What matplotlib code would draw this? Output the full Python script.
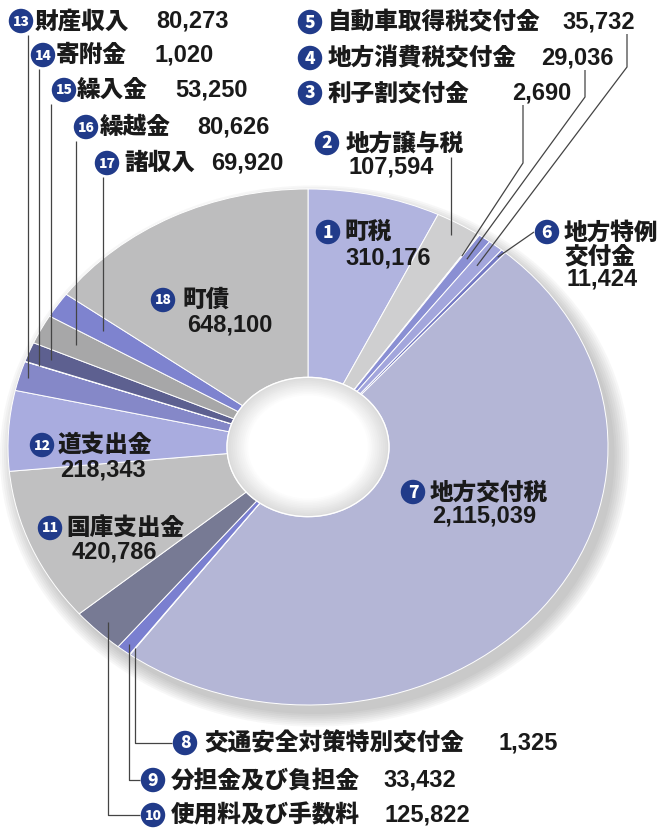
import matplotlib
matplotlib.use("Agg")
import matplotlib.pyplot as plt
from matplotlib.patches import Ellipse
import numpy as np

plt.rcParams["font.family"] = ["Noto Sans CJK JP", "DejaVu Sans"]

# 歳入の内訳（千円）
numbers = list(range(1, 19))
names = ["町税", "地方譲与税", "利子割交付金", "地方消費税交付金", "自動車取得税交付金",
         "地方特例\n交付金", "地方交付税", "交通安全対策特別交付金", "分担金及び負担金",
         "使用料及び手数料", "国庫支出金", "道支出金", "財産収入", "寄附金", "繰入金",
         "繰越金", "諸収入", "町債"]
values = [310176, 107594, 2690, 29036, 35732, 11424, 2115039, 1325, 33432,
          125822, 420786, 218343, 80273, 1020, 53250, 80626, 69920, 648100]
colors = ["#b1b4df", "#cfcfd0", "#6d71b8", "#8a8fd3", "#a3a6dc", "#7479c4",
          "#b4b6d6", "#7b80d0", "#7a7fd0", "#777a94", "#c0c0c1", "#a9acdf",
          "#8588c8", "#6a6d9a", "#5d6090", "#a7a7a8", "#7e83cf", "#bdbdbe"]

W, H = 658, 831
CX, CY, RX, RY = 308, 447, 300, 258   # 楕円の中心と半径（px）
HOLE = 0.27
NAVY = "#213b8a"
INK = "#1a1a1a"
LINE = "#444444"
FS = 17
LSTEP = 24   # 2行目以降の行送り（px）

# ラベル配置（px）: 丸数字の位置, 名前の位置, 金額の位置
badge_xy = {13: (21, 21), 14: (43, 55), 15: (64, 90), 16: (86, 127), 17: (107, 163),
            5: (310, 22), 4: (310, 58), 3: (310, 93), 2: (327, 143), 1: (328, 232),
            6: (547, 232), 7: (413, 492), 18: (163, 300), 12: (42, 445), 11: (50, 528),
            8: (185, 743), 9: (153, 780), 10: (153, 815)}
name_xy = {13: (35, 21), 14: (56, 55), 15: (77, 90), 16: (100, 127), 17: (124, 163),
           5: (328, 22), 4: (328, 58), 3: (328, 93), 2: (346, 143), 1: (344, 232),
           6: (564, 232), 7: (430, 492), 18: (182, 300), 12: (58, 445), 11: (66, 528),
           8: (204, 743), 9: (171, 780), 10: (171, 815)}
value_xy = {13: (156, 21), 14: (155, 55), 15: (175, 90), 16: (197, 127), 17: (211, 163),
            5: (562, 22), 4: (541, 58), 3: (512, 93), 2: (349, 167), 1: (345, 258),
            6: (566, 279), 7: (432, 516), 18: (187, 325), 12: (60, 470), 11: (72, 552),
            8: (498, 743), 9: (383, 780), 10: (385, 815)}
# 引き出し線: 扇形の中の半径
leader_r = {13: 0.97, 14: 0.95, 15: 0.92, 16: 0.87, 17: 0.82, 2: 0.95,
            3: 0.9, 4: 0.9, 5: 0.9, 6: 0.97, 8: 0.97, 9: 0.97, 10: 0.95}
# 右上ラベルの折れ点 (x, y)
bend_xy = {3: (523, 163), 4: (585, 97), 5: (627, 67)}

fracs = np.array(values) / sum(values)
mids = np.concatenate([[0], np.cumsum(fracs)[:-1]]) + fracs / 2


def anchor(n, r):
    th = np.deg2rad(90 - 360 * mids[n - 1])
    return CX + RX * r * np.cos(th), CY - RY * r * np.sin(th)


fig = plt.figure(figsize=(W / 100, H / 100), dpi=100)
fig.patch.set_facecolor("white")

# ── ドーナツ（楕円） ──
ax = fig.add_axes([(CX - RX) / W, 1 - (CY + RY) / H, 2 * RX / W, 2 * RY / H])
for k in range(8):
    r = 1.0 + 0.007 * k
    ax.add_patch(Ellipse((0.022, -0.035), 2 * r, 2 * r, facecolor="#555555",
                         edgecolor="none", alpha=0.045, zorder=0, clip_on=False))
ax.pie(values, colors=colors, startangle=90, counterclock=False, radius=1,
       wedgeprops=dict(width=1 - HOLE, edgecolor="white", linewidth=0.7))
for r, g in zip(np.linspace(HOLE, 0.2, 12), np.linspace(0.86, 1.0, 12)):
    ax.add_patch(Ellipse((0, 0), 2 * r, 2 * r, facecolor=(g, g, g), edgecolor="none", zorder=3))
ax.add_patch(Ellipse((0, 0), 2 * HOLE, 2 * HOLE, facecolor="none", edgecolor="white", lw=1.0, zorder=4))
ax.set_aspect("auto")
ax.set_xlim(-1, 1)
ax.set_ylim(-1, 1)
ax.axis("off")

# ── ラベル ──
ov = fig.add_axes([0, 0, 1, 1], zorder=3)
ov.set_xlim(0, W)
ov.set_ylim(H, 0)
ov.axis("off")
ov.patch.set_alpha(0)

for n in numbers:
    bx, by = badge_xy[n]
    ov.scatter([bx], [by], s=310, color=NAVY, edgecolors="none", zorder=5)
    ov.text(bx, by + 0.5, str(n), color="white", fontsize=12.5 if n < 10 else 10,
            fontweight="black", ha="center", va="center", zorder=6)
    nx, ny = name_xy[n]
    for k, part in enumerate(names[n - 1].split("\n")):
        ov.text(nx, ny + k * LSTEP, part, color=INK, fontsize=FS, fontweight="black",
                ha="left", va="center", zorder=6)
    vx, vy = value_xy[n]
    ov.text(vx, vy, f"{values[n - 1]:,}", color=INK, fontsize=FS, fontweight="bold",
            family=["Liberation Sans", "DejaVu Sans"], ha="left", va="center", zorder=6)

lk = dict(color=LINE, lw=0.9, zorder=4, solid_capstyle="butt")
for n in (13, 14, 15, 16, 17):
    axx, axy = anchor(n, leader_r[n])
    ov.plot([axx, axx], [badge_xy[n][1] + 14, axy], **lk)

axx, axy = anchor(2, leader_r[2])
ov.plot([axx, axx], [value_xy[2][1] - 10, axy], **lk)

for n in (3, 4, 5):
    axx, axy = anchor(n, leader_r[n])
    kx, ky = bend_xy[n]
    ov.plot([kx, kx, axx], [badge_xy[n][1] + 12, ky, axy], **lk)

axx, axy = anchor(6, leader_r[6])
ov.plot([axx, badge_xy[6][0] - 13], [axy, badge_xy[6][1]], **lk)

for n in (8, 9, 10):
    axx, axy = anchor(n, leader_r[n])
    ly = badge_xy[n][1]
    ov.plot([axx, axx, badge_xy[n][0] - 13], [axy, ly, ly], **lk)

fig.savefig("out.png", dpi=100, facecolor="white")
